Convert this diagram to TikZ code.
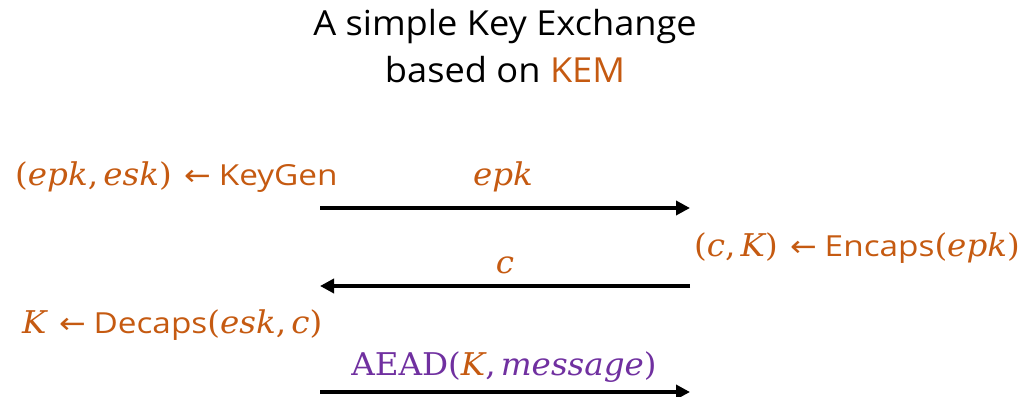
\documentclass[tikz,border=0pt]{standalone}
\usepackage{fontspec}
\setmainfont{Open Sans}[FakeStretch=1.15]
\newfontfamily\ttlfont{Open Sans}[FakeStretch=1.05]
\newfontfamily\mitfont{DejaVu Serif}[Scale=1.08,FakeStretch=1.04]
\newfontfamily\arrfont{DejaVu Sans}[FakeStretch=1.1]
\usetikzlibrary{arrows.meta}
\definecolor{kemorange}{HTML}{C55A11}
\definecolor{aeadpurple}{HTML}{7030A0}
\newcommand\mv[1]{{\mitfont\itshape #1}}
\newcommand\mr[1]{{\mitfont #1}}
\newcommand\larr{\hspace{0.45em}{\arrfont\char"2190}\hspace{0.25em}}
\begin{document}
\begin{tikzpicture}[x=1pt,y=-1pt,
  lbl/.style={inner sep=0pt, font=\fontsize{29}{32}\selectfont, text=kemorange},
  ttl/.style={inner sep=0pt, font=\ttlfont\fontsize{34.5}{38}\selectfont, text=black},
  msg/.style={line width=3.5pt, -{Triangle[length=14pt,width=14pt]}}]
\useasboundingbox (0,0) rectangle (1022,396);
\node[ttl] (t1) at (505,27) {A simple Key Exchange};
\node[ttl] (t2) at (505,70) {based on \textcolor{kemorange}{KEM}};
\node[lbl, anchor=west] (kg) at (15,177) {\mr{(}\mv{epk}\mr{,\,}\mv{esk}\mr{)}\larr KeyGen};
\node[lbl] (epk) at (503,177) {\mv{epk}};
\coordinate (a1s) at (320,208);
\coordinate (a1e) at (690,208);
\draw[msg] (a1s) -- (a1e);
\node[lbl, anchor=east] (enc) at (1020,248) {\mr{(}\mv{c}\mr{,\,}\mv{K}\mr{)}\larr Encaps\mr{(}\mv{epk}\mr{)}};
\node[lbl] (cc) at (505,265) {\mv{c}};
\coordinate (a2s) at (690,286);
\coordinate (a2e) at (320,286);
\draw[msg] (a2s) -- (a2e);
\node[lbl, anchor=west] (dec) at (22,325) {\mv{K}\larr Decaps\mr{(}\mv{esk}\mr{,\,}\mv{c}\mr{)}};
\node[lbl, text=aeadpurple] (aead) at (504,367) {\mr{AEAD(}\textcolor{kemorange}{\mv{K}}\mr{,\,}\mv{message}\mr{)}};
\coordinate (a3s) at (320,392);
\coordinate (a3e) at (690,392);
\draw[msg] (a3s) -- (a3e);
\end{tikzpicture}
\end{document}
